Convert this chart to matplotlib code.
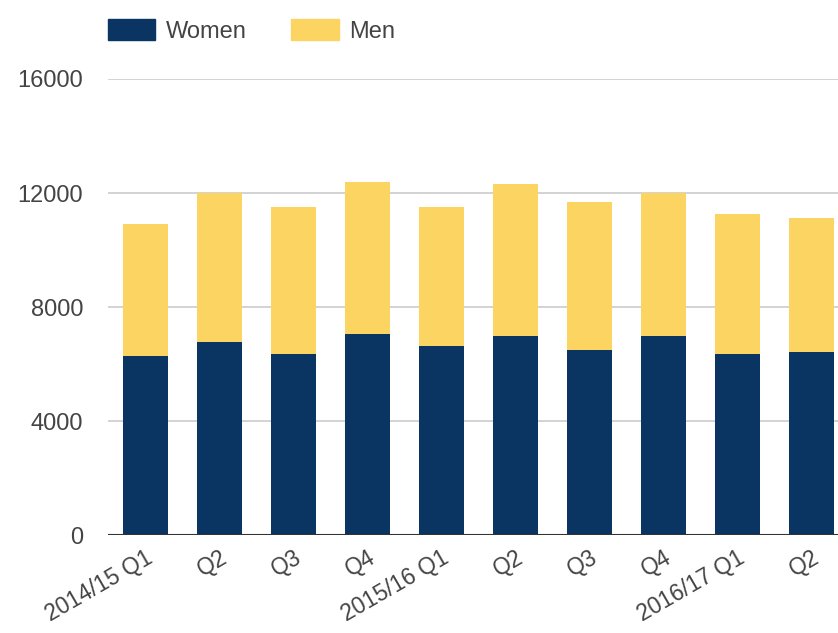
import matplotlib
matplotlib.use("Agg")
import matplotlib.pyplot as plt
import numpy as np
from matplotlib.patches import Patch

plt.rcParams['font.family'] = ['Liberation Sans', 'DejaVu Sans']

quarters = ["2014/15 Q1", "Q2", "Q3", "Q4", "2015/16 Q1",
            "Q2", "Q3", "Q4", "2016/17 Q1", "Q2"]
women = [6280, 6760, 6350, 7040, 6630, 6980, 6490, 6980, 6350, 6410]
men = [4620, 5230, 5170, 5335, 4890, 5325, 5185, 5030, 4900, 4700]
yticks = [0, 4000, 8000, 12000, 16000]

NAVY = "#0a3461"
GOLD = "#fcd462"
TXT = "#444444"

fig = plt.figure(figsize=(8.38, 6.33), dpi=100)
ax = fig.add_axes([0.1289, 0.1548, 0.8711, 0.7204])

x = np.arange(len(quarters))
w = 0.61
ax.bar(x, women, width=w, color=NAVY, zorder=3)
ax.bar(x, men, width=w, bottom=women, color=GOLD, zorder=3)

ax.set_ylim(0, 16000)
ax.set_xlim(-0.507, 9.36)
ax.set_yticks(yticks)
ax.set_yticklabels([str(v) for v in yticks], fontsize=17, color=TXT)
for v in yticks[1:]:
    ax.axhline(v, color="#cccccc", lw=1.2, zorder=1)
ax.axhline(0, color="#333333", lw=1.5, zorder=4)

ax.set_xticks(x)
ax.set_xticklabels(quarters, rotation=30, ha="right", rotation_mode="anchor",
                   fontsize=16.5, color=TXT)
ax.tick_params(axis="both", length=0, pad=8)
ax.tick_params(axis="y", pad=18)
for s in ax.spines.values():
    s.set_visible(False)

handles = [Patch(color=NAVY, label="Women"), Patch(color=GOLD, label="Men")]
leg = fig.legend(handles=handles, loc="upper left", bbox_to_anchor=(0.106, 1.0),
                 ncol=2, frameon=False, fontsize=17, handlelength=2.0,
                 handleheight=1.0, columnspacing=1.9, handletextpad=0.45,
                 borderaxespad=0.4)
for t in leg.get_texts():
    t.set_color(TXT)

fig.savefig("out.png", dpi=100)
